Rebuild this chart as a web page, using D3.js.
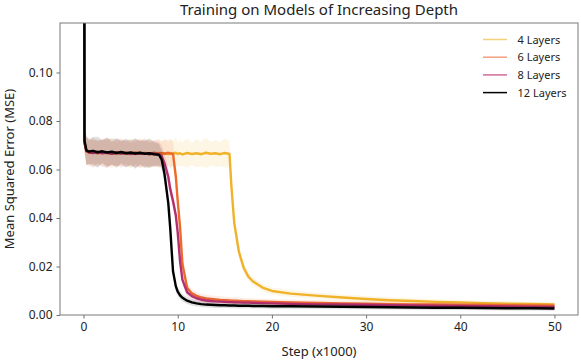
<!DOCTYPE html>
<html lang="en">
<head>
    <meta charset="UTF-8">
    <title>Training on Models of Increasing Depth</title>
    <script src="https://d3js.org/d3.v7.min.js"></script>
    <style>
        body { margin: 0; background: #fff; }
        text { font-family: "Noto Sans", "Open Sans", sans-serif; fill: #222; }
    </style>
</head>
<body>
<div id="main"></div>
<script>
    // training step (x1000), shared by every run
    const steps = [0, 0.1, 0.3, 0.6, 1, 1.5, 2, 2.5, 3, 3.5, 4, 4.5, 5, 5.5, 6, 6.5, 7, 7.5, 8,
        8.3, 8.6, 9, 9.2, 9.5, 9.8, 10, 10.25, 10.5, 11, 11.5, 12, 12.5, 13, 13.5, 14, 14.5, 15,
        15.5, 15.7, 16, 16.5, 17, 17.5, 18, 19, 20, 22, 25, 27.5, 30, 32.5, 35, 37.5, 40, 42.5, 45, 47.5, 50]

    const labels = ["4 Layers", "6 Layers", "8 Layers", "12 Layers"]

    // mean MSE per run
    const mse4 = [0.40, 0.071, 0.0675, 0.0668, 0.0671, 0.0666, 0.0672, 0.0667, 0.0669, 0.0664, 0.067, 0.0666, 0.0668, 0.0663, 0.0669, 0.0665, 0.0667, 0.0662, 0.0668,
        0.0664, 0.0667, 0.0663, 0.0668, 0.0665, 0.0669, 0.0664, 0.0667, 0.0662, 0.0668, 0.0664, 0.0667, 0.0663, 0.0669, 0.0665, 0.0667, 0.0663, 0.0668,
        0.0664, 0.053, 0.038, 0.026, 0.0195, 0.0158, 0.0138, 0.0113, 0.0099, 0.0088, 0.0079, 0.0072, 0.0066, 0.0061, 0.0058, 0.0054, 0.0052, 0.0049, 0.0047, 0.0046, 0.0044]
    const mse6 = [0.40, 0.071, 0.0678, 0.067, 0.0673, 0.0668, 0.0671, 0.0669, 0.0666, 0.0671, 0.0667, 0.0669, 0.0665, 0.067, 0.0666, 0.0668, 0.0664, 0.0669, 0.0666,
        0.0668, 0.0665, 0.0669, 0.0666, 0.0664, 0.057, 0.047, 0.036, 0.021, 0.0112, 0.0089, 0.0079, 0.0072, 0.0068, 0.0066, 0.0064, 0.0062, 0.0061,
        0.006, 0.0059, 0.0059, 0.0058, 0.0057, 0.0057, 0.0056, 0.0055, 0.0054, 0.0052, 0.005, 0.0048, 0.0047, 0.0045, 0.0044, 0.0043, 0.0042, 0.0041, 0.004, 0.0039, 0.0038]
    const mse8 = [0.40, 0.071, 0.0676, 0.0671, 0.0668, 0.0672, 0.0667, 0.067, 0.0665, 0.0669, 0.0666, 0.0668, 0.0664, 0.0667, 0.0665, 0.0667, 0.0663, 0.0666, 0.0662,
        0.0655, 0.0625, 0.057, 0.052, 0.047, 0.041, 0.034, 0.022, 0.0145, 0.0094, 0.0078, 0.0069, 0.0063, 0.006, 0.0058, 0.0056, 0.0055, 0.0054,
        0.0053, 0.0053, 0.0052, 0.0052, 0.0051, 0.0051, 0.005, 0.0049, 0.0048, 0.0046, 0.0044, 0.0043, 0.0042, 0.004, 0.0039, 0.0038, 0.0037, 0.0036, 0.0035, 0.0034, 0.0033]
    const mse12 = [0.40, 0.072, 0.0679, 0.0674, 0.0677, 0.0671, 0.0675, 0.067, 0.0673, 0.0668, 0.0672, 0.0667, 0.067, 0.0666, 0.0669, 0.0665, 0.0667, 0.0663, 0.0661,
        0.064, 0.058, 0.046, 0.036, 0.018, 0.0118, 0.0096, 0.0081, 0.0071, 0.0059, 0.0052, 0.0048, 0.0045, 0.0043, 0.0042, 0.0041, 0.004, 0.004,
        0.0039, 0.0039, 0.0039, 0.0038, 0.0038, 0.0038, 0.0037, 0.0037, 0.0036, 0.0036, 0.0035, 0.0034, 0.0033, 0.0032, 0.0031, 0.003, 0.003, 0.0029, 0.0028, 0.0028, 0.0027]

    // spread of the noisy raw curve round the mean
    const spread4 = [0.002, 0.004, 0.0055, 0.0048, 0.0062, 0.0045, 0.0058, 0.005, 0.0064, 0.0047, 0.0056, 0.0049, 0.0061, 0.0046, 0.0059, 0.0051, 0.0063, 0.0048, 0.0057,
        0.005, 0.006, 0.0046, 0.0058, 0.0052, 0.0062, 0.0047, 0.0056, 0.0049, 0.0061, 0.0045, 0.0058, 0.0051, 0.0063, 0.0048, 0.0056, 0.005, 0.006,
        0.0055, 0.004, 0.003, 0.0025, 0.002, 0.0018, 0.0016, 0.0015, 0.0014, 0.0014, 0.0013, 0.0013, 0.0012, 0.0012, 0.0011, 0.0011, 0.001, 0.001, 0.001, 0.0009, 0.0009]
    const spread6 = [0.002, 0.004, 0.0052, 0.006, 0.0046, 0.0057, 0.0049, 0.0063, 0.0047, 0.0055, 0.0061, 0.0045, 0.0058, 0.005, 0.0062, 0.0048, 0.0056, 0.0051, 0.006,
        0.0047, 0.0058, 0.0052, 0.0061, 0.005, 0.004, 0.0035, 0.003, 0.0025, 0.002, 0.0018, 0.0017, 0.0016, 0.0016, 0.0015, 0.0015, 0.0015, 0.0014,
        0.0014, 0.0014, 0.0014, 0.0013, 0.0013, 0.0013, 0.0013, 0.0012, 0.0012, 0.0012, 0.0012, 0.0011, 0.0011, 0.0011, 0.0011, 0.001, 0.001, 0.001, 0.001, 0.001, 0.001]
    const spread8 = [0.002, 0.004, 0.0058, 0.0049, 0.0061, 0.0046, 0.0056, 0.0063, 0.0048, 0.0057, 0.005, 0.006, 0.0045, 0.0059, 0.0052, 0.0062, 0.0047, 0.0056, 0.005,
        0.0045, 0.004, 0.0035, 0.003, 0.003, 0.0028, 0.0025, 0.0022, 0.002, 0.0018, 0.0016, 0.0015, 0.0015, 0.0014, 0.0014, 0.0013, 0.0013, 0.0013,
        0.0012, 0.0012, 0.0012, 0.0012, 0.0012, 0.0011, 0.0011, 0.0011, 0.0011, 0.0011, 0.001, 0.001, 0.001, 0.001, 0.001, 0.0009, 0.0009, 0.0009, 0.0009, 0.0009, 0.0009]
    const spread12 = [0.002, 0.004, 0.0062, 0.005, 0.0057, 0.0064, 0.0047, 0.0059, 0.0052, 0.0061, 0.0046, 0.0058, 0.0051, 0.0063, 0.0048, 0.0056, 0.006, 0.0049, 0.0045,
        0.004, 0.0035, 0.003, 0.0028, 0.0025, 0.002, 0.0018, 0.0016, 0.0015, 0.0014, 0.0013, 0.0013, 0.0012, 0.0012, 0.0012, 0.0012, 0.0011, 0.0011,
        0.0011, 0.0011, 0.0011, 0.0011, 0.0011, 0.001, 0.001, 0.001, 0.001, 0.001, 0.001, 0.001, 0.0009, 0.0009, 0.0009, 0.0009, 0.0009, 0.0009, 0.0009, 0.0009, 0.0009]

    const xTicks = [0, 10, 20, 30, 40, 50]
    const yTicks = [0, 0.02, 0.04, 0.06, 0.08, 0.10]

    const runs = [
        {label: labels[0], mse: mse4, spread: spread4, color: "#f0b22b", legendColor: "#f5cf7b"},
        {label: labels[1], mse: mse6, spread: spread6, color: "#ec6b2a", legendColor: "#f4a27e"},
        {label: labels[2], mse: mse8, spread: spread8, color: "#b42f6f", legendColor: "#d2699a"},
        {label: labels[3], mse: mse12, spread: spread12, color: "#000000", legendColor: "#000000"}
    ]

    let totalW = 581, totalH = 363
    let margin = {top: 23, right: 3, bottom: 48, left: 60},
        width = totalW - margin.left - margin.right,
        height = totalH - margin.top - margin.bottom

    let svg = d3.select("#main")
        .append("svg")
        .attr("id", "svg")
        .attr("width", totalW)
        .attr("height", totalH)

    let chart = svg.append("g")
        .attr("transform", `translate(${margin.left},${margin.top})`)

    let XScale = d3.scaleLinear().domain([-2.5, 52.5]).range([0, width])
    let YScale = d3.scaleLinear().domain([0, 0.1204]).range([height, 0])

    chart.append("clipPath").attr("id", "plotClip")
        .append("rect").attr("width", width).attr("height", height)

    let plot = chart.append("g").attr("clip-path", "url(#plotClip)")

    runs.forEach(function (r) {
        let rows = steps.map((s, i) => ({x: s, y: r.mse[i], s: r.spread[i]}))
        let band = d3.area()
            .x(d => XScale(d.x))
            .y0(d => YScale(d.y - d.s))
            .y1(d => YScale(d.y + d.s))
        let line = d3.line()
            .x(d => XScale(d.x))
            .y(d => YScale(d.y))
        plot.append("path")
            .attr("d", band(rows))
            .attr("fill", r.color)
            .attr("fill-opacity", 0.12)
        plot.append("path")
            .attr("d", line(rows))
            .attr("fill", "none")
            .attr("stroke", r.color)
            .attr("stroke-width", 2.4)
            .attr("stroke-linejoin", "round")
    })

    // axes
    let x_axis = d3.axisBottom(XScale).tickValues(xTicks).tickSize(3.5).tickPadding(4)
        .tickFormat(d3.format("d"))
    let y_axis = d3.axisLeft(YScale).tickValues(yTicks).tickSize(3.5).tickPadding(4)
        .tickFormat(d3.format(".2f"))

    let gx = chart.append("g").attr("transform", `translate(0,${height})`).call(x_axis)
    let gy = chart.append("g").call(y_axis)
    ;[gx, gy].forEach(g => {
        g.select(".domain").remove()
        g.selectAll("line").attr("stroke", "#707070")
        g.selectAll("text").style("font-size", "12px").style("fill", "#222")
            .style("font-family", "'Noto Sans', sans-serif")
    })

    // frame
    chart.append("rect")
        .attr("width", width).attr("height", height)
        .attr("fill", "none").attr("stroke", "#7a7a7a").attr("stroke-width", 1)

    chart.append("text")
        .attr("x", width / 2).attr("y", -8.5)
        .attr("text-anchor", "middle")
        .style("font-size", "15px")
        .text("Training on Models of Increasing Depth")

    chart.append("text")
        .attr("x", width / 2).attr("y", height + 41)
        .attr("text-anchor", "middle")
        .style("font-size", "13px")
        .text("Step (x1000)")

    chart.append("text")
        .attr("transform", `translate(${14 - margin.left},${height / 2}) rotate(-90)`)
        .attr("text-anchor", "middle")
        .style("font-size", "13px")
        .text("Mean Squared Error (MSE)")

    // legend
    let legend = chart.append("g").attr("transform", `translate(${483 - margin.left},${39.5 - margin.top})`)
    let item = legend.selectAll("g").data(runs).enter().append("g")
        .attr("transform", (d, i) => `translate(0,${i * 17.7})`)
    item.append("line")
        .attr("x1", 0).attr("x2", 24)
        .attr("stroke", d => d.legendColor)
        .attr("stroke-width", 1.5)
    item.append("text")
        .attr("x", 34.5).attr("y", 4)
        .style("font-size", "11px")
        .text(d => d.label)
</script>
</body>
</html>
